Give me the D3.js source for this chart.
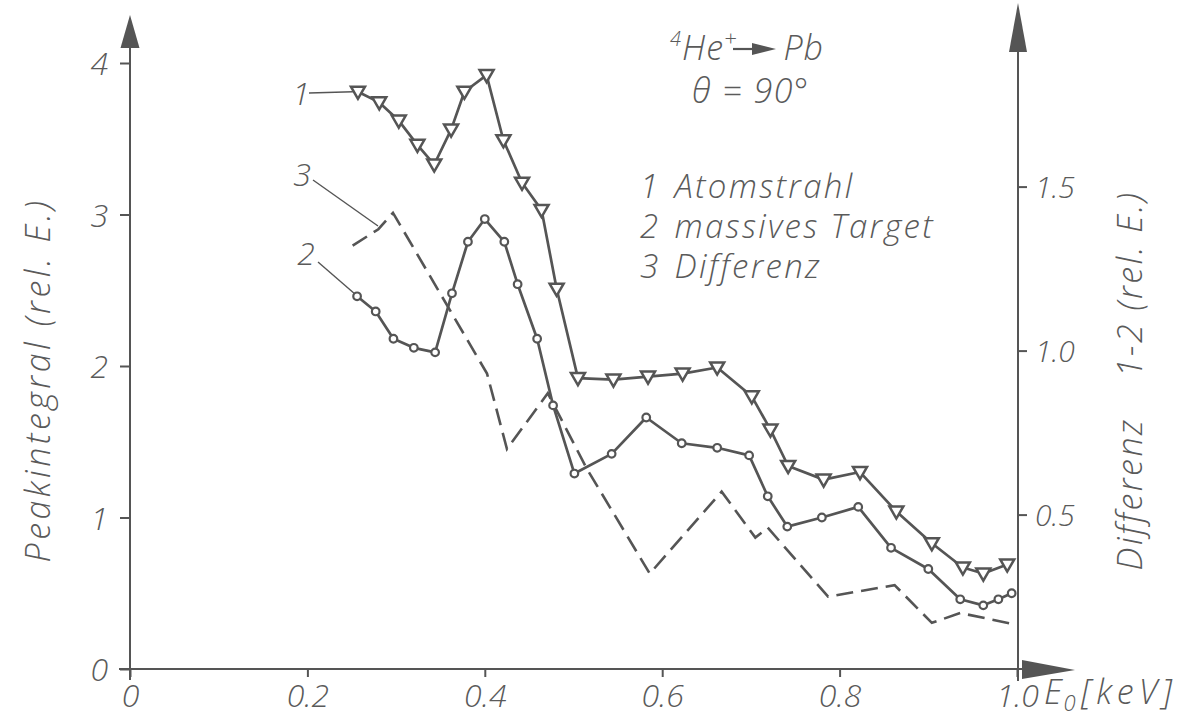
<!DOCTYPE html>
<html>
<head>
<meta charset="utf-8">
<script src="https://cdn.jsdelivr.net/npm/d3@7"></script>
<style>
  html, body { margin: 0; padding: 0; background: #ffffff; }
  svg { display: block; }
  text { font-family: "Open Sans", "DejaVu Sans", sans-serif; font-style: italic; font-weight: 300; fill: #5a5a5a; }
</style>
</head>
<body>
<svg id="chart" width="1186" height="720"></svg>
<script>
// Curve 1: atomic beam (Atomstrahl), left axis
const energyAtom = [0.257, 0.281, 0.303, 0.324, 0.343, 0.362, 0.377, 0.402, 0.421, 0.442, 0.464, 0.481,
                    0.505, 0.545, 0.584, 0.623, 0.662, 0.701, 0.722, 0.742, 0.782, 0.823, 0.864, 0.904,
                    0.939, 0.962, 0.989];
const atomBeam = [3.81, 3.74, 3.62, 3.46, 3.33, 3.56, 3.81, 3.92, 3.49, 3.21, 3.03, 2.51,
                  1.92, 1.91, 1.93, 1.95, 1.99, 1.80, 1.58, 1.34, 1.25, 1.30, 1.04, 0.83,
                  0.67, 0.63, 0.69];

// Curve 2: solid target (massives Target), left axis
const energyTarget = [0.256, 0.277, 0.297, 0.320, 0.344, 0.363, 0.381, 0.400, 0.422, 0.437, 0.459, 0.477,
                      0.501, 0.543, 0.582, 0.622, 0.662, 0.698, 0.719, 0.741, 0.780, 0.821, 0.858, 0.900,
                      0.936, 0.962, 0.979, 0.994];
const solidTarget = [2.46, 2.36, 2.18, 2.12, 2.09, 2.48, 2.82, 2.97, 2.82, 2.54, 2.18, 1.74,
                     1.29, 1.42, 1.66, 1.49, 1.46, 1.41, 1.14, 0.94, 1.00, 1.07, 0.80, 0.66,
                     0.46, 0.42, 0.46, 0.50];

// Curve 3: difference 1-2 (Differenz), right axis
const energyDiff = [0.251, 0.280, 0.2965, 0.4025, 0.425, 0.471, 0.515, 0.586, 0.667, 0.705, 0.719,
                    0.787, 0.862, 0.904, 0.936, 0.998];
const difference = [1.32, 1.37, 1.42, 0.93, 0.70, 0.87, 0.64, 0.32, 0.57, 0.43, 0.46,
                    0.25, 0.285, 0.17, 0.20, 0.165];

// Axis ticks
const xTicks = [0, 0.2, 0.4, 0.6, 0.8, 1.0];
const xTickLabels = ["0", "0.2", "0.4", "0.6", "0.8", "1.0"];
const yLeftTicks = [0, 1, 2, 3, 4];
const yLeftTickLabels = ["0", "1", "2", "3", "4"];
const yRightTicks = [0.5, 1.0, 1.5];
const yRightTickLabels = ["0.5", "1.0", "1.5"];

const ink = "#555555";
const svg = d3.select("#chart");

const x = d3.scaleLinear().domain([0, 1]).range([130, 1017]);
const yL = d3.scaleLinear().domain([0, 4]).range([669, 63]);
const yR = d3.scaleLinear().domain([0, 2]).range([678.6, 22.6]);

const x0 = x(0), y0 = yL(0), xr = x(1) + 1;

// ---- axes ----
const axes = svg.append("g").attr("stroke", ink).attr("stroke-width", 2).attr("fill", "none");
// left axis with arrow
axes.append("line").attr("x1", x0).attr("y1", y0 + 11).attr("x2", x0).attr("y2", 46);
svg.append("path").attr("fill", ink)
  .attr("d", `M${x0},15 L${x0 - 9.5},48 L${x0 + 9.5},48 Z`);
// bottom axis with arrow
axes.append("line").attr("x1", x0 - 11).attr("y1", y0).attr("x2", 1024).attr("y2", y0);
svg.append("path").attr("fill", ink)
  .attr("d", `M1075,${y0 + 1} L1022,${y0 - 9} L1022,${y0 + 10} Z`);
// right axis with arrow
axes.append("line").attr("x1", xr).attr("y1", y0 + 12).attr("x2", xr).attr("y2", 50);
svg.append("path").attr("fill", ink)
  .attr("d", `M${xr},3 L${xr - 9},52 L${xr + 9},52 Z`);

// left ticks and labels
const gl = svg.append("g").call(
  d3.axisLeft(yL).tickValues(yLeftTicks).tickFormat((d, i) => yLeftTickLabels[i]).tickSize(10).tickPadding(12)
).attr("transform", `translate(${x0},0)`);
gl.select(".domain").remove();
gl.selectAll("line").attr("stroke", ink).attr("stroke-width", 2);
gl.selectAll("text").attr("font-size", 32).attr("dy", "0.36em").attr("font-family", null);

// bottom ticks and labels
const gb = svg.append("g").call(
  d3.axisBottom(x).tickValues(xTicks).tickFormat((d, i) => xTickLabels[i]).tickSize(8).tickPadding(6)
).attr("transform", `translate(0,${y0})`);
gb.select(".domain").remove();
gb.selectAll("line").attr("stroke", ink).attr("stroke-width", 2);
gb.selectAll("text").attr("font-size", 32).attr("dy", "0.76em").attr("font-family", null);

// right ticks and labels
const gr = svg.append("g").call(
  d3.axisRight(yR).tickValues(yRightTicks).tickFormat((d, i) => yRightTickLabels[i]).tickSize(9).tickPadding(8)
).attr("transform", `translate(${xr},0)`);
gr.select(".domain").remove();
gr.selectAll("line").attr("stroke", ink).attr("stroke-width", 2);
gr.selectAll("text").attr("font-size", 30).attr("dy", "0.36em").attr("font-family", null);

// axis titles
svg.append("text").attr("transform", "translate(50,380) rotate(-90)")
  .attr("text-anchor", "middle").attr("font-size", 34).attr("letter-spacing", 3.5)
  .text("Peakintegral (rel. E.)");
svg.append("text").attr("transform", "translate(1142,494) rotate(-90)")
  .attr("text-anchor", "middle").attr("font-size", 34).attr("letter-spacing", 2.5).text("Differenz");
svg.append("text").attr("transform", "translate(1142,284) rotate(-90)")
  .attr("text-anchor", "middle").attr("font-size", 34).attr("letter-spacing", 2.5).text("1-2 (rel. E.)");

const xTitle = svg.append("text").attr("x", 1044).attr("y", 704).attr("font-size", 34).attr("letter-spacing", 1.5);
xTitle.append("tspan").text("E");
xTitle.append("tspan").attr("font-size", 22).attr("dy", 7).text("0");
xTitle.append("tspan").attr("dy", -7).attr("dx", 4).attr("letter-spacing", 5).text("[keV]");

// ---- curves ----
const lineL = d3.line().x(d => x(d[0])).y(d => yL(d[1]));
const lineR = d3.line().x(d => x(d[0])).y(d => yR(d[1]));

const atomPts = energyAtom.map((e, i) => [e, atomBeam[i]]);
const targetPts = energyTarget.map((e, i) => [e, solidTarget[i]]);
const diffPts = energyDiff.map((e, i) => [e, difference[i]]);

svg.append("path").datum(diffPts).attr("d", lineR)
  .attr("fill", "none").attr("stroke", ink).attr("stroke-width", 2.6)
  .attr("stroke-dasharray", "17 8").attr("stroke-linejoin", "miter");

svg.append("path").datum(atomPts).attr("d", lineL)
  .attr("fill", "none").attr("stroke", ink).attr("stroke-width", 2.7).attr("stroke-linejoin", "round");
svg.append("path").datum(targetPts).attr("d", lineL)
  .attr("fill", "none").attr("stroke", ink).attr("stroke-width", 2.7).attr("stroke-linejoin", "round");

// down-pointing triangle markers on curve 1
const tri = d3.symbol().type(d3.symbolTriangle).size(85);
svg.append("g").selectAll("path").data(atomPts).join("path")
  .attr("d", tri)
  .attr("transform", d => `translate(${x(d[0])},${yL(d[1]) - 1}) rotate(180)`)
  .attr("fill", "#ffffff").attr("stroke", ink).attr("stroke-width", 2.5);

// open circle markers on curve 2
svg.append("g").selectAll("circle").data(targetPts).join("circle")
  .attr("cx", d => x(d[0])).attr("cy", d => yL(d[1])).attr("r", 3.8)
  .attr("fill", "#ffffff").attr("stroke", ink).attr("stroke-width", 2.2);

// ---- curve labels with leader lines ----
const leaders = svg.append("g").attr("stroke", ink).attr("stroke-width", 1.4).attr("fill", "none");
leaders.append("line").attr("x1", 309).attr("y1", 93).attr("x2", x(energyAtom[0]) - 5).attr("y2", yL(atomBeam[0]));
leaders.append("line").attr("x1", 313).attr("y1", 180).attr("x2", 378).attr("y2", 226);
leaders.append("line").attr("x1", 318).attr("y1", 262).attr("x2", x(energyTarget[0]) - 3).attr("y2", yL(solidTarget[0]) - 3);

svg.append("text").attr("x", 301).attr("y", 105).attr("text-anchor", "middle").attr("font-size", 32).text("1");
svg.append("text").attr("x", 302).attr("y", 186).attr("text-anchor", "middle").attr("font-size", 32).text("3");
svg.append("text").attr("x", 306).attr("y", 265).attr("text-anchor", "middle").attr("font-size", 32).text("2");

// ---- reaction and legend ----
const reac = svg.append("text").attr("x", 670).attr("y", 60).attr("font-size", 34).attr("letter-spacing", 1);
reac.append("tspan").attr("font-size", 20).attr("dy", -14).text("4");
reac.append("tspan").attr("dy", 14).text("He");
reac.append("tspan").attr("font-size", 22).attr("dy", -14).text("+");
reac.append("tspan").attr("dy", 14).attr("dx", 46).text("Pb");
// reaction arrow
svg.append("line").attr("x1", 733).attr("y1", 49).attr("x2", 756).attr("y2", 49)
  .attr("stroke", ink).attr("stroke-width", 2.2);
svg.append("path").attr("fill", ink).attr("d", "M776,49 L752,43 L752,55 Z");

svg.append("text").attr("x", 692).attr("y", 103).attr("font-size", 34).attr("letter-spacing", 1.5).text("θ = 90°");

// legend block: one text element, one line per curve
const legend = [["1", "Atomstrahl"], ["2", "massives Target"], ["3", "Differenz"]];
const legendText = svg.append("text").attr("x", 640).attr("y", 198)
  .attr("font-size", 33).attr("letter-spacing", 2.3);
legend.forEach((d, i) => {
  legendText.append("tspan").attr("x", 640).attr("dy", i === 0 ? 0 : 40).text(d[0]);
  legendText.append("tspan").attr("dx", 14).text(d[1]);
});
</script>
</body>
</html>
